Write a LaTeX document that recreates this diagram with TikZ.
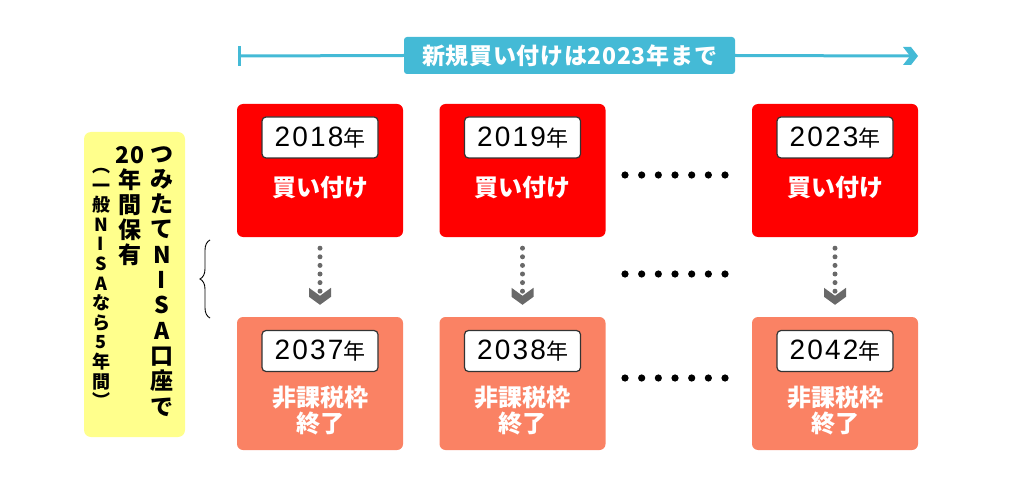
\documentclass[tikz,border=0pt]{standalone}
\usepackage{fontspec}
\setmainfont{Noto Sans CJK JP}
\newfontfamily\yearfont[LetterSpace=8]{Liberation Sans}
\usetikzlibrary{decorations.pathreplacing}
\definecolor{tlblue}{RGB}{68,186,214}
\definecolor{bred}{RGB}{255,0,0}
\definecolor{bsalmon}{RGB}{250,130,100}
\definecolor{byellow}{RGB}{255,255,140}
\definecolor{agray}{RGB}{105,105,105}
\newcommand\yrtext[1]{{\yearfont\fontsize{28}{28}\selectfont #1}\hspace{0pt}{\fontsize{22}{22}\selectfont 年}}
\tikzset{
  boxbase/.style={rounded corners=6pt, minimum width=166pt, minimum height=133pt, inner sep=0pt},
  upbox/.style={boxbase, fill=bred},
  lowbox/.style={boxbase, fill=bsalmon},
  yearbox/.style={draw=black!80, line width=1.2pt, fill=white, rounded corners=4pt,
    minimum width=116pt, minimum height=41pt, inner sep=0pt},
  whitelabel/.style={text=white, font=\bfseries\fontsize{24}{26}\selectfont, align=center, inner sep=0pt},
  vcol/.style={align=center, inner sep=0pt, anchor=north},
  dotline/.style={agray, line width=5pt, dash pattern=on 0pt off 8.6pt, line cap=round},
  timeline/.style={tlblue, line width=3pt},
}
\begin{document}
\begin{tikzpicture}[x=1pt,y=-1pt]
\useasboundingbox (0,0) rectangle (1024,494);
% timeline
\node[fill=tlblue, rounded corners=3pt, minimum width=331pt, minimum height=37pt, inner sep=0pt,
  text=white, font=\bfseries\fontsize{23}{23}\selectfont\addfontfeature{LetterSpace=3}] (tl) at (569.5,55.5) {新規買い付けは2023年まで};
\coordinate (ts) at (239,56);
\coordinate (te) at (918,56);
\draw[timeline] (ts) -- (tl.west);
\draw[timeline] (tl.east) -- ([xshift=-8pt]te);
\draw[timeline] ([yshift=10pt]ts) -- ([yshift=-10pt]ts);
\fill[tlblue, shift={(te)}] (-15,-9) -- (-7,-9) -- (0,0) -- (-7,9) -- (-15,9) -- (-8,0) -- cycle;
% yellow box
\node[fill=byellow, rounded corners=7pt, minimum width=101pt, minimum height=305pt, inner sep=0pt] (yb) at (134.5,284.5) {};
\node[vcol, font=\bfseries\fontsize{23}{25.3}\selectfont] (c1) at (162,146) {つ\\み\\た\\て\\N\\I\\S\\A\\口\\座\\で};
\node[vcol, font=\bfseries\fontsize{23}{25}\selectfont] (c2) at (130,146) {20\\年\\間\\保\\有};
\node[vcol, font=\bfseries\fontsize{18}{19.6}\selectfont] (c3) at (101,168) {︵\\一\\般\\N\\I\\S\\A\\な\\ら\\5\\年\\間\\︶};
% brace
\coordinate (bb) at (210,318);
\coordinate (bt) at (210,240);
\draw[decorate, decoration={brace, amplitude=10pt}, line width=0.9pt] (bb) -- (bt);
% boxes
\foreach \n/\x/\ya/\yb in {1/320/2018/2037, 2/522.5/2019/2038, 3/835/2023/2042} {
  \node[upbox] (u\n) at (\x,170.5) {};
  \node[yearbox] (uy\n) at (\x,137.5) {\yrtext{\ya}};
  \node[whitelabel] (ut\n) at (\x,188) {買い付け};
  \node[lowbox] (l\n) at (\x,383.5) {};
  \node[yearbox] (ly\n) at (\x,351) {\yrtext{\yb}};
  \node[whitelabel] (lt\n) at (\x,410) {非課税枠\\終了};
  \draw[dotline] ([yshift=-11pt]u\n.south) -- ([yshift=25pt]l\n.north);
  \coordinate (a\n) at ([yshift=12pt]l\n.north);
  \fill[agray, shift={(a\n)}] (-11,-17) -- (0,-9) -- (11,-17) -- (11,-8) -- (0,0) -- (-11,-8) -- cycle;
}
% dot rows
\foreach \yy in {175,274,378} {
  \foreach \k in {0,...,6} {
    \fill ({625+\k*16.67},\yy) circle (3.6pt);
  }
}
\end{tikzpicture}
\end{document}
